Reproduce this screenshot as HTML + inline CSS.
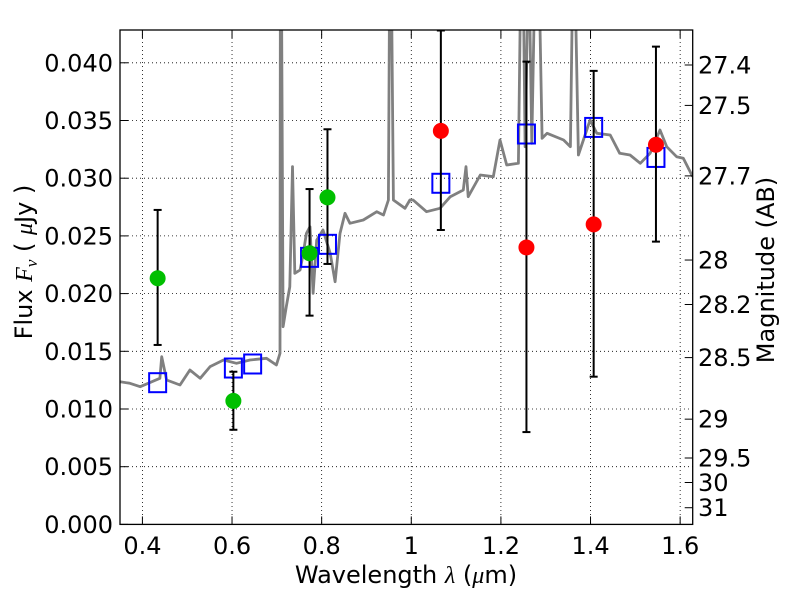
<!DOCTYPE html>
<html><head><meta charset="utf-8"><style>
html,body{margin:0;padding:0;background:#fff;}
svg text{font-family:"DejaVu Sans","Liberation Sans",sans-serif;fill:#000;}
</style></head><body>
<svg id="chart" width="800" height="600" xmlns="http://www.w3.org/2000/svg">
<defs><clipPath id="pc"><rect x="120" y="30" width="572.7" height="494.4"/></clipPath></defs>
<rect x="0" y="0" width="800" height="600" fill="#fff"/>
<g id="grid"></g>
<g id="spec" clip-path="url(#pc)"></g>
<g id="marks" clip-path="url(#pc)"></g>
<rect x="120" y="30" width="572.7" height="494.4" fill="none" stroke="#000" stroke-width="1.3"/>
<g id="axes"></g>
<text x="406" y="583" font-size="24" text-anchor="middle">Wavelength  <tspan font-style="italic" font-family="Liberation Serif,serif">λ</tspan> (<tspan font-style="italic" font-family="Liberation Serif,serif">μ</tspan>m)</text>
<text transform="translate(32,262) rotate(-90)" font-size="24" text-anchor="middle">Flux  <tspan font-style="italic" font-family="Liberation Serif,serif">F<tspan font-size="17" dy="5">ν</tspan></tspan><tspan dy="-5">  ( </tspan><tspan font-style="italic" font-family="Liberation Serif,serif">μ</tspan>Jy )</text>
<text transform="translate(774,270) rotate(-90)" font-size="24" text-anchor="middle">Magnitude (AB)</text>
</svg>
<script>
const xTicks=[0.4,0.6,0.8,1.0,1.2,1.4,1.6];
const xTickLabels=["0.4","0.6","0.8","1","1.2","1.4","1.6"];
const yTicks=[0,0.005,0.01,0.015,0.02,0.025,0.03,0.035,0.04];
const yTickLabels=["0.000","0.005","0.010","0.015","0.020","0.025","0.030","0.035","0.040"];
const magTicks=[27.4,27.5,27.7,28,28.2,28.5,29,29.5,30,31];
const magLabels=["27.4","27.5","27.7","28","28.2","28.5","29","29.5","30","31"];
const specLam=[.350,.372,.395,.439,.443,.454,.484,.506,.529,.551,.581,.610,.640,.677,.699,.707,.708,.710,.714,.721,.729,.735,.740,.752,.759,.766,.774,.781,.789,.803,.819,.830,.841,.852,.863,.893,.923,.938,.949,.952,.955,.960,.986,.997,1.004,1.034,1.064,1.087,1.116,1.122,1.127,1.154,1.183,1.198,1.213,1.239,1.245,1.249,1.254,1.262,1.269,1.277,1.284,1.292,1.303,1.340,1.355,1.361,1.364,1.373,1.384,1.399,1.414,1.444,1.465,1.488,1.511,1.533,1.555,1.570,1.592,1.607,1.628];
const specFlux=[.01237,.01223,.01193,.01266,.01453,.01251,.01208,.01338,.01266,.01367,.01425,.01396,.01425,.01439,.01381,.01483,.05,.05,.01713,.01887,.02060,.03100,.02176,.02205,.02349,.02522,.02580,.02003,.02464,.02551,.02349,.02103,.02522,.02696,.02609,.02638,.02710,.02681,.02811,.05,.05,.02811,.02739,.02811,.02811,.02710,.02739,.02840,.02898,.03100,.02840,.03028,.03013,.03331,.03114,.03129,.05,.05,.03273,.05,.03302,.05,.05,.03346,.03389,.03331,.03273,.05,.05,.03201,.03331,.03504,.03389,.03374,.03216,.03201,.03129,.03216,.03418,.03273,.03186,.03173,.03013];
const greenLam=[0.434,0.603,0.773,0.813];
const greenFlux=[0.02133,0.0107,0.0235,0.02834];
const greenHi=[0.02725,0.01323,0.02906,0.03424];
const greenLo=[0.01555,0.0082,0.01809,0.02257];
const redLam=[1.066,1.257,1.407,1.546];
const redFlux=[0.0341,0.0240,0.0260,0.0329];
const redHi=[0.0428,0.0401,0.0393,0.0414];
const redLo=[0.02551,0.0080,0.0128,0.0245];
const modelLam=[0.434,0.603,0.646,0.773,0.813,1.066,1.257,1.407,1.546];
const modelFlux=[0.01228,0.01355,0.0139,0.02314,0.02427,0.02956,0.03383,0.0344,0.0318];

const X0=120,X1=692.7,Y0=524.4,Y1=30,LMIN=0.35,LMAX=1.628,FMAX=(524.4-30)/11540;
const sx=l=>X0+(l-LMIN)/(LMAX-LMIN)*(X1-X0);
const sy=f=>Y0-f/FMAX*(Y0-Y1);
const NS="http://www.w3.org/2000/svg";
function mk(tag,attrs,parent){const e=document.createElementNS(NS,tag);for(const k in attrs)e.setAttribute(k,attrs[k]);parent.appendChild(e);return e;}
const grid=document.getElementById('grid'),axes=document.getElementById('axes'),spec=document.getElementById('spec'),marks=document.getElementById('marks');

xTicks.forEach((t,i)=>{const x=sx(t);
 const g=mk('line',{x1:x,x2:x,y1:Y1,y2:Y0,stroke:'#000','stroke-width':0.8,'stroke-dasharray':'1,3'},grid);
 
 const a=mk('line',{x1:x,x2:x,y1:Y0,y2:Y0-8,stroke:'#000','stroke-width':1},axes);
 
 const b=mk('line',{x1:x,x2:x,y1:Y1,y2:Y1+8,stroke:'#000','stroke-width':1},axes);
 
 const tx=mk('text',{x:x,y:554,'font-size':24,'text-anchor':'middle'},axes);tx.textContent=xTickLabels[i];
 
});
yTicks.forEach((t,i)=>{const y=sy(t);
 const g=mk('line',{x1:X0,x2:X1,y1:y,y2:y,stroke:'#000','stroke-width':0.8,'stroke-dasharray':'1,3'},grid);
 
 const a=mk('line',{x1:X0,x2:X0+8,y1:y,y2:y,stroke:'#000','stroke-width':1},axes);
 
 const tx=mk('text',{x:113,y:y+8.5,'font-size':24,'text-anchor':'end'},axes);tx.textContent=yTickLabels[i];
 
});
magTicks.forEach((m,i)=>{const y=sy(Math.pow(10,(23.9-m)/2.5));
 const a=mk('line',{x1:X1-8,x2:X1,y1:y,y2:y,stroke:'#000','stroke-width':1},axes);
 
 const tx=mk('text',{x:698,y:y+8.5,'font-size':24,'text-anchor':'start'},axes);tx.textContent=magLabels[i];
 
});
const pts=specLam.map((l,i)=>sx(l).toFixed(1)+','+sy(specFlux[i]).toFixed(1)).join(' ');
const sp=mk('polyline',{points:pts,fill:'none',stroke:'#808080','stroke-width':2.8,'stroke-linejoin':'round'},spec);


function errbar(l,lo,hi){const x=sx(l);
 const e=mk('g',{stroke:'#000','stroke-width':2},marks);
 
 mk('line',{x1:x,x2:x,y1:sy(lo),y2:sy(hi)},e);
 mk('line',{x1:x-4,x2:x+4,y1:sy(lo),y2:sy(lo)},e);
 mk('line',{x1:x-4,x2:x+4,y1:sy(hi),y2:sy(hi)},e);}
modelLam.forEach((l,i)=>{
 const r=mk('rect',{x:sx(l)-8.5,y:sy(modelFlux[i])-9.5,width:17,height:19,fill:'none',stroke:'#0000ff','stroke-width':2},marks);
 });
greenLam.forEach((l,i)=>{errbar(l,greenLo[i],greenHi[i]);
 const c=mk('circle',{cx:sx(l),cy:sy(greenFlux[i]),r:8,fill:'#00bf00'},marks);
 });
redLam.forEach((l,i)=>{errbar(l,redLo[i],redHi[i]);
 const c=mk('circle',{cx:sx(l),cy:sy(redFlux[i]),r:8,fill:'#ff0000'},marks);
 });
</script>
</body></html>
